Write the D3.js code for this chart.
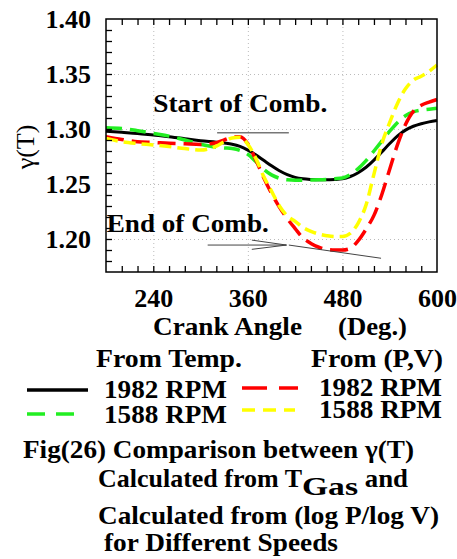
<!DOCTYPE html>
<html lang="en">
<head>
    <meta charset="UTF-8">
    <title>Fig(26) gamma(T) comparison</title>
    <script src="https://d3js.org/d3.v7.min.js"></script>
    <style>
        body { margin: 0; background: #fff; }
        text { font-family: "Liberation Serif", "Times New Roman", serif; font-weight: bold; fill: #000; }
    </style>
</head>
<body>
    <div id="chart"></div>
    <script>
        // crank angle grid (deg) shared by all four curves
        const crankAngles = [180, 200, 220, 240, 260, 280, 300, 320, 330, 340, 350, 360, 370, 380, 390, 400,
            410, 420, 430, 440, 450, 460, 470, 480, 490, 500, 510, 520, 530, 540, 550, 560, 570, 580, 590, 600];

        // gamma from gas temperature
        const tempRpm1982 = [1.2980, 1.2970, 1.2960, 1.2945, 1.2930, 1.2912, 1.2893, 1.2880, 1.2872, 1.2862, 1.2842, 1.2808,
            1.2765, 1.2715, 1.2665, 1.2620, 1.2585, 1.2560, 1.2547, 1.2541, 1.2538, 1.2538, 1.2541, 1.2547,
            1.2568, 1.2603, 1.2652, 1.2717, 1.2792, 1.2868, 1.2938, 1.2990, 1.3025, 1.3048, 1.3065, 1.3078];
        const tempRpm1588 = [1.3012, 1.3005, 1.2985, 1.2960, 1.2935, 1.2900, 1.2862, 1.2835, 1.2828, 1.2822, 1.2805, 1.2770,
            1.2705, 1.2635, 1.2583, 1.2552, 1.2538, 1.2535, 1.2535, 1.2536, 1.2538, 1.2542, 1.2548, 1.2555,
            1.2585, 1.2640, 1.2712, 1.2800, 1.2890, 1.2980, 1.3060, 1.3120, 1.3155, 1.3172, 1.3180, 1.3188];

        // gamma from log P / log V
        const pvRpm1982 = [1.2930, 1.2905, 1.2885, 1.2878, 1.2870, 1.2865, 1.2860, 1.2875, 1.2900, 1.2925, 1.2930, 1.2865,
            1.2720, 1.2560, 1.2415, 1.2290, 1.2185, 1.2095, 1.2010, 1.1960, 1.1925, 1.1905, 1.1900, 1.1900,
            1.1915, 1.1985, 1.2090, 1.2215, 1.2405, 1.2635, 1.2860, 1.3040, 1.3160, 1.3215, 1.3245, 1.3268];
        const pvRpm1588 = [1.2915, 1.2885, 1.2868, 1.2855, 1.2840, 1.2822, 1.2808, 1.2845, 1.2885, 1.2918, 1.2925, 1.2860,
            1.2735, 1.2570, 1.2435, 1.2300, 1.2210, 1.2160, 1.2105, 1.2070, 1.2045, 1.2030, 1.2022, 1.2022,
            1.2052, 1.2145, 1.2310, 1.2590, 1.2865, 1.3060, 1.3235, 1.3365, 1.3445, 1.3480, 1.3525, 1.3582];

        const xTicks = [240, 360, 480, 600];
        const yTicks = [1.20, 1.25, 1.30, 1.35, 1.40];

        const series = [
            {name: "tempRpm1982", values: tempRpm1982, color: "#000000", dash: null, width: 3},
            {name: "tempRpm1588", values: tempRpm1588, color: "#22ee22", dash: "16,8", width: 3.5},
            {name: "pvRpm1982", values: pvRpm1982, color: "#ff0000", dash: "18,8", width: 3.5},
            {name: "pvRpm1588", values: pvRpm1588, color: "#ffff00", dash: "12,6", width: 3.5}
        ];

        const W = 457, H = 559;
        const margin = {top: 19, left: 106};
        const width = 331, height = 253;
        const fs = 25;

        const svg = d3.select("#chart").append("svg")
            .attr("width", W)
            .attr("height", H);

        // the original lettering is a little wider than Times, so stretch to the measured width
        function label(parent, txt, px, py, len) {
            return parent.append("text")
                .attr("x", px).attr("y", py)
                .attr("font-size", fs)
                .attr("textLength", len)
                .attr("lengthAdjust", "spacingAndGlyphs")
                .text(txt);
        }

        const g = svg.append("g")
            .attr("transform", `translate(${margin.left},${margin.top})`);

        const x = d3.scaleLinear().domain([180, 600]).range([0, width]);
        const y = d3.scaleLinear().domain([1.17, 1.40]).range([height, 0]);

        // dotted grid at major ticks
        g.append("g")
            .call(d3.axisLeft(y).tickValues([1.20, 1.25, 1.30, 1.35]).tickSize(-width).tickFormat(""))
            .call(s => s.select(".domain").remove())
            .call(s => s.selectAll("line").attr("stroke", "#bbb").attr("stroke-dasharray", "1,3"));
        g.append("g")
            .attr("transform", `translate(0,${height})`)
            .call(d3.axisBottom(x).tickValues([240, 360, 480]).tickSize(-height).tickFormat(""))
            .call(s => s.select(".domain").remove())
            .call(s => s.selectAll("line").attr("stroke", "#bbb").attr("stroke-dasharray", "1,3"));

        // curves
        const line = d3.line()
            .x((d, i) => x(crankAngles[i]))
            .y(d => y(d))
            .curve(d3.curveMonotoneX);

        g.append("g")
            .selectAll("path")
            .data(series)
            .join("path")
            .attr("d", d => line(d.values))
            .attr("fill", "none")
            .attr("stroke", d => d.color)
            .attr("stroke-width", d => d.width)
            .attr("stroke-dasharray", d => d.dash);

        // annotations
        g.append("line")
            .attr("x1", x(321)).attr("x2", x(412))
            .attr("y1", y(1.2966)).attr("y2", y(1.2966))
            .attr("stroke", "#777").attr("stroke-width", 1.5);
        label(g, "Start of Comb.", x(240), y(1.3155), 174);
        label(g, "End of Comb.", x(181), y(1.2064), 162);

        g.append("line")
            .attr("x1", x(309)).attr("y1", y(1.1945))
            .attr("x2", x(409)).attr("y2", y(1.1945))
            .attr("stroke", "#444").attr("stroke-width", 1);
        g.append("path")
            .attr("d", d3.line()([[x(365), y(1.1990)], [x(409), y(1.1945)], [x(365), y(1.1906)]]))
            .attr("fill", "none").attr("stroke", "#444").attr("stroke-width", 1);
        g.append("line")
            .attr("x1", x(412)).attr("y1", y(1.1945))
            .attr("x2", x(529)).attr("y2", y(1.1825))
            .attr("stroke", "#444").attr("stroke-width", 1);

        // frame and inward ticks
        g.append("rect")
            .attr("width", width).attr("height", height)
            .attr("fill", "none").attr("stroke", "#000").attr("stroke-width", 1.5);

        const minorX = d3.range(200, 600, 20);
        const minorY = d3.range(1.18, 1.395, 0.01);
        g.append("g")
            .attr("transform", `translate(0,${height})`)
            .call(d3.axisBottom(x).tickValues(minorX).tickSize(-6).tickFormat(""))
            .call(s => s.select(".domain").remove())
            .call(s => s.selectAll("line").attr("stroke-width", 1.3));
        g.append("g")
            .call(d3.axisTop(x).tickValues(minorX).tickSize(-6).tickFormat(""))
            .call(s => s.select(".domain").remove())
            .call(s => s.selectAll("line").attr("stroke-width", 1.3));
        g.append("g")
            .call(d3.axisLeft(y).tickValues(minorY).tickSize(-6).tickFormat(""))
            .call(s => s.select(".domain").remove())
            .call(s => s.selectAll("line").attr("stroke-width", 1.3));

        // tick labels
        g.append("g")
            .attr("transform", `translate(0,${height})`)
            .call(d3.axisBottom(x).tickValues(xTicks).tickSize(0).tickPadding(17).tickFormat(d3.format("d")))
            .call(s => s.select(".domain").remove())
            .call(s => s.selectAll("text").attr("font-size", 26));
        g.append("g")
            .call(d3.axisLeft(y).tickValues(yTicks).tickSize(0).tickPadding(15).tickFormat(d3.format(".2f")))
            .call(s => s.select(".domain").remove())
            .call(s => s.selectAll("text").attr("font-size", 26));

        // axis titles
        label(svg, "Crank Angle", 153, 335, 149);
        label(svg, "(Deg.)", 338, 335, 69);
        svg.append("text")
            .attr("transform", "translate(34,147) rotate(-90)")
            .attr("text-anchor", "middle")
            .attr("font-size", 26)
            .style("font-weight", "normal")
            .text("γ(T)");

        // legend
        label(svg, "From Temp.", 96, 367, 146);
        label(svg, "From (P,V)", 311, 367, 132);

        const legendItems = [
            {s: series[0], label: "1982 RPM", lx: 27, lw: 61, ly: 390, tx: 104, ty: 398},
            {s: series[1], label: "1588 RPM", lx: 27, lw: 48, ly: 414, tx: 104, ty: 423, dash: "18,11"},
            {s: series[2], label: "1982 RPM", lx: 242, lw: 56, ly: 388, tx: 319, ty: 396, dash: "25,12"},
            {s: series[3], label: "1588 RPM", lx: 242, lw: 53, ly: 410, tx: 319, ty: 418, dash: "13,8"}
        ];
        legendItems.forEach(d => {
            svg.append("line")
                .attr("x1", d.lx).attr("x2", d.lx + d.lw)
                .attr("y1", d.ly).attr("y2", d.ly)
                .attr("stroke", d.s.color).attr("stroke-width", 3.5)
                .attr("stroke-dasharray", d.dash || null);
            label(svg, d.label, d.tx, d.ty, 123);
        });

        // caption
        label(svg, "Fig(26) Comparison between γ(T)", 23, 458, 391);
        const cap2 = svg.append("text").attr("x", 98).attr("y", 487).attr("font-size", fs);
        cap2.append("tspan").attr("textLength", 204).attr("lengthAdjust", "spacingAndGlyphs")
            .text("Calculated from T");
        cap2.append("tspan").attr("dy", 8).attr("textLength", 56).attr("lengthAdjust", "spacingAndGlyphs")
            .text("Gas");
        cap2.append("tspan").attr("dy", -8).attr("textLength", 50).attr("lengthAdjust", "spacingAndGlyphs")
            .text(" and");
        label(svg, "Calculated from (log P/log V)", 98, 524, 341);
        label(svg, "for Different Speeds", 104, 551, 234);
    </script>
</body>
</html>
